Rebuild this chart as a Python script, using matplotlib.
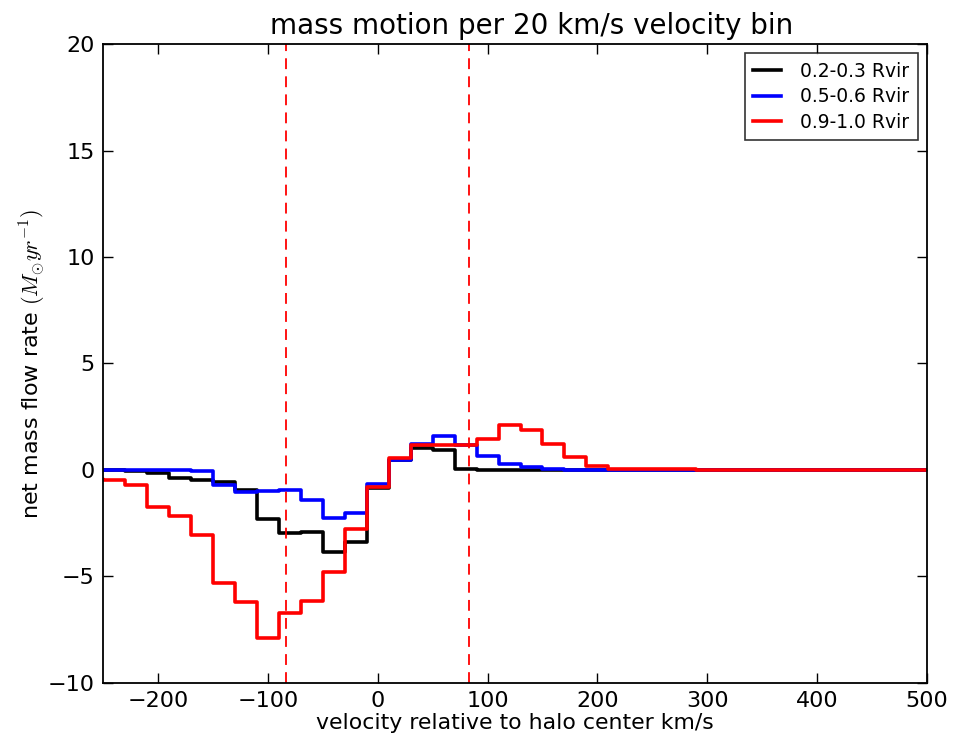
import numpy as np
import matplotlib
matplotlib.use("Agg")
import matplotlib.pyplot as plt

plt.rcParams['mathtext.fontset'] = 'cm'
plt.rcParams['font.family'] = ['DejaVu Sans']

# bin centres (km/s), 20 km/s bins
velocity = list(range(-260, 521, 20))

# net mass flow rate per bin (Msun/yr)
inner = [0.0, 0.0, -0.03, -0.13, -0.37, -0.46, -0.57, -0.93, -2.28, -2.95, -2.93, -3.83, -3.39,
         -0.85, 0.45, 1.04, 0.95, 0.05, 0.02, 0.02, 0.02, 0.02, 0.02, 0.02, 0.02,
         0.02, 0.02, 0.02, 0.02, 0.02, 0.02, 0.02, 0.02, 0.02, 0.02, 0.02, 0.02, 0.02, 0.02, 0.02]
middle = [0.02, 0.02, 0.02, 0.02, 0.0, -0.05, -0.69, -1.01, -0.97, -0.92, -1.39, -2.26, -2.01,
          -0.65, 0.45, 1.2, 1.59, 1.15, 0.64, 0.26, 0.16, 0.03, 0.02, 0.02, 0.02,
          0.02, 0.02, 0.02, 0.02, 0.02, 0.02, 0.02, 0.02, 0.02, 0.02, 0.02, 0.02, 0.02, 0.02, 0.02]
outer = [-0.42, -0.45, -0.7, -1.75, -2.17, -3.07, -5.31, -6.2, -7.88, -6.7, -6.13, -4.8, -2.76,
         -0.8, 0.55, 1.15, 1.15, 1.15, 1.46, 2.09, 1.89, 1.23, 0.6, 0.21, 0.06,
         0.04, 0.03, 0.03, 0.02, 0.02, 0.02, 0.02, 0.02, 0.02, 0.02, 0.02, 0.02, 0.02, 0.02, 0.02]

labels = ['0.2-0.3 Rvir', '0.5-0.6 Rvir', '0.9-1.0 Rvir']
colors = ['black', 'blue', 'red']
vlines = [-83, 83]

fig = plt.figure(figsize=(9.57, 7.41), dpi=100)
ax = fig.add_axes([0.1076, 0.0783, 0.8611, 0.8623])

for ys, lab, c in zip([inner, middle, outer], labels, colors):
    ax.plot(velocity, ys, drawstyle='steps-mid', color=c, lw=2.6, label=lab)

for v in vlines:
    ax.axvline(v, color='red', ls='--', lw=1.3, dashes=(6, 4))

ax.set_xlim(-250, 500)
ax.set_ylim(-10, 20)
ax.set_xticks([-200, -100, 0, 100, 200, 300, 400, 500])
ax.set_yticks([-10, -5, 0, 5, 10, 15, 20])
ax.tick_params(direction='in', top=True, right=True, labelsize=16, length=7, width=1, pad=6)
for s in ax.spines.values():
    s.set_linewidth(1.3)

ax.set_title('mass motion per 20 km/s velocity bin', fontsize=20, pad=7, x=0.52)
ax.set_xlabel('velocity relative to halo center km/s', fontsize=15.8, labelpad=1)
ax.set_ylabel(r'net mass flow rate $(M_{\odot} yr^{-1})$', fontsize=16, labelpad=0)

leg = ax.legend(loc='upper right', fontsize=13.5, frameon=True, fancybox=False,
                edgecolor='black', handlelength=1.5, handletextpad=1.0,
                borderpad=0.45, labelspacing=0.35)
leg.get_frame().set_linewidth(1.2)

fig.savefig('out.png', dpi=100)
